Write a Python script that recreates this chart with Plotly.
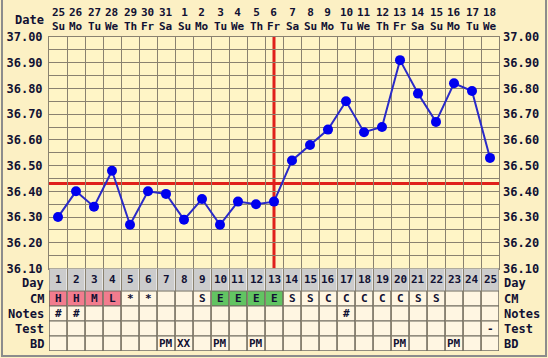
import plotly.graph_objects as go

W, H = 548, 358

dates = [25, 26, 27, 28, 29, 30, 31, 1, 2, 3, 4, 5, 6, 7, 8, 9, 10, 11, 12, 13, 14, 15, 16, 17, 18]
weekdays = ["Su", "Mo", "Tu", "We", "Th", "Fr", "Sa", "Su", "Mo", "Tu", "We", "Th", "Fr",
            "Sa", "Su", "Mo", "Tu", "We", "Th", "Fr", "Sa", "Su", "Mo", "Tu", "We"]
days = list(range(1, 26))
temps = [36.30, 36.40, 36.34, 36.48, 36.27, 36.40, 36.39, 36.29, 36.37, 36.27, 36.36, 36.35, 36.36,
         36.52, 36.58, 36.64, 36.75, 36.63, 36.65, 36.91, 36.78, 36.67, 36.82, 36.79, 36.53]
coverline = 36.43
ovulation_day = 13
cm = ["H", "H", "M", "L", "*", "*", "", "", "S", "E", "E", "E", "E",
      "S", "S", "C", "C", "C", "C", "C", "S", "S", "", "", ""]
notes = ["#", "#", "", "", "", "", "", "", "", "", "", "", "",
         "", "", "", "#", "", "", "", "", "", "", "", ""]
test = [""] * 24 + ["-"]
bd = ["", "", "", "", "", "", "PM", "XX", "", "PM", "", "PM", "",
      "", "", "", "", "", "", "PM", "", "", "PM", "", ""]
temp_ticks = [36.10, 36.20, 36.30, 36.40, 36.50, 36.60, 36.70, 36.80, 36.90, 37.00]
row_labels = ["Day", "CM", "Notes", "Test", "BD"]

# colours
OUTER = "#FCF0C4"
PLOTBG = "#FFF5C6"
GRID = "#8A8270"
CELL = "#FFF6E2"
DAYBG = "#CCCCCC"
PINK = "#F27C8E"
GREEN = "#62C462"
RED = "#E0201C"
FONT = "DejaVu Sans Mono"
TXT = "#111133"

def px_x(p):
    return p / W

def px_y(p):
    return 1 - p / H

x_dom = [px_x(49), px_x(499)]
temp_dom = [px_y(268.5), px_y(37)]
tab_dom = [px_y(351), px_y(268.5)]

fig = go.Figure()

fig.add_trace(go.Scatter(
    x=days, y=temps, mode="lines+markers",
    line=dict(color="#2A2AC8", width=2),
    marker=dict(color="#0000EE", size=10),
    xaxis="x", yaxis="y", hoverinfo="skip", showlegend=False))
# invisible trace for right temp axis
fig.add_trace(go.Scatter(x=[days[0]], y=[temps[0]], mode="markers", marker=dict(opacity=0),
                         xaxis="x", yaxis="y3", showlegend=False, hoverinfo="skip"))

row_spans = {"Day": (4, 5.5), "CM": (3, 4), "Notes": (2, 3), "Test": (1, 2), "BD": (0, 1)}
row_data = {"Day": [str(d) for d in days], "CM": cm, "Notes": notes, "Test": test, "BD": bd}

shapes = []
annotations = []
for r in row_labels:
    y0, y1 = row_spans[r]
    for i, d in enumerate(days):
        if r == "Day":
            fill = DAYBG
            lc = "#EEEEEE"
        else:
            fill = CELL
            lc = "#6E6A5E"
            if r == "CM":
                if cm[i] in ("H", "M", "L"):
                    fill = PINK
                elif cm[i] == "E":
                    fill = GREEN
        shapes.append(dict(type="rect", xref="x", yref="y2", x0=d - 0.5, x1=d + 0.5, y0=y0, y1=y1,
                           fillcolor=fill, line=dict(color=lc, width=1), layer="below"))
        txt = row_data[r][i]
        if txt:
            annotations.append(dict(xref="x", yref="y2", x=d, y=(y0 + y1) / 2, text=txt,
                                    yanchor="middle", showarrow=False,
                                    font=dict(family=FONT, size=11, color=TXT, weight="bold")))
    yl = (y0 + y1) / 2
    annotations.append(dict(xref="paper", yref="y2", x=px_x(46), y=yl - (0.2 if r == "Day" else 0), text=r,
                            xanchor="right", yanchor="middle", showarrow=False,
                            font=dict(family=FONT, size=12, color=TXT, weight="bold")))
    annotations.append(dict(xref="paper", yref="y2", x=px_x(502), y=yl - (0.2 if r == "Day" else 0),
                            text=r, xanchor="left", yanchor="middle", showarrow=False,
                            font=dict(family=FONT, size=12, color=TXT, weight="bold")))

# table outer frame
shapes.append(dict(type="rect", xref="x", yref="y2", x0=0.5, x1=25.5, y0=0, y1=5.5,
                   line=dict(color="#6E6A5E", width=1), fillcolor="rgba(0,0,0,0)"))

# coverline and ovulation line
shapes.append(dict(type="line", xref="x", yref="y", x0=0.5, x1=25.5, y0=coverline, y1=coverline,
                   line=dict(color=RED, width=3), layer="below"))
shapes.append(dict(type="line", xref="x", yref="y", x0=ovulation_day, x1=ovulation_day, y0=36.10, y1=37.00,
                   line=dict(color=RED, width=3), layer="below"))

# outer border
shapes.append(dict(type="rect", xref="paper", yref="paper", x0=px_x(2), x1=px_x(546), y0=px_y(356), y1=px_y(-2),
                   line=dict(color="#8C8C8C", width=2), fillcolor="rgba(0,0,0,0)"))

# header dates (date number over weekday)
for d, dt, wd in zip(days, dates, weekdays):
    annotations.append(dict(xref="x", yref="paper", x=d, y=px_y(19.5), text=f"{dt}<br>{wd}",
                            showarrow=False, yanchor="middle", align="center",
                            font=dict(family=FONT, size=11, color=TXT, weight="bold")))
annotations.append(dict(xref="paper", yref="paper", x=px_x(46), y=px_y(19.5), text="Date", xanchor="right",
                        yanchor="middle", showarrow=False,
                        font=dict(family=FONT, size=12, color=TXT, weight="bold")))

tickfont = dict(family=FONT, size=12, color=TXT, weight="bold")

fig.update_layout(
    width=W, height=H, margin=dict(l=0, r=0, t=0, b=0, autoexpand=False),
    paper_bgcolor=OUTER, plot_bgcolor=PLOTBG, showlegend=False,
    shapes=shapes, annotations=annotations,
    xaxis=dict(domain=x_dom, range=[0.5, 25.5], anchor="y", automargin=False,
               tickvals=[d + 0.5 for d in range(0, 26)], showticklabels=False, ticks="",
               showgrid=True, gridcolor=GRID, gridwidth=1, zeroline=False,
               showline=True, linecolor=GRID, mirror=True),
    yaxis=dict(domain=temp_dom, range=[36.10, 37.00], anchor="x", automargin=False,
               tickvals=temp_ticks, ticktext=[f"{t:.2f}" for t in temp_ticks],
               tickfont=tickfont, ticks="", ticklabelstandoff=3,
               showgrid=True, gridcolor=GRID, gridwidth=1, zeroline=False,
               minor=dict(dtick=0.05, tick0=36.10, showgrid=True, gridcolor=GRID, gridwidth=1),
               showline=True, linecolor=GRID, mirror=True),
    yaxis3=dict(domain=temp_dom, range=[36.10, 37.00], overlaying="y", side="right", anchor="x",
                automargin=False,
                tickvals=temp_ticks, ticktext=[f"{t:.2f}" for t in temp_ticks],
                tickfont=tickfont, ticks="", showgrid=False, zeroline=False, ticklabelstandoff=3),
    yaxis2=dict(domain=tab_dom, range=[0, 5.5], anchor="x", showticklabels=False, showgrid=False,
                zeroline=False, ticks="", automargin=False),
)

fig.write_html("out.html", config={"displayModeBar": False},
               post_script="document.body.style.margin='0';document.body.style.overflow='hidden';")
